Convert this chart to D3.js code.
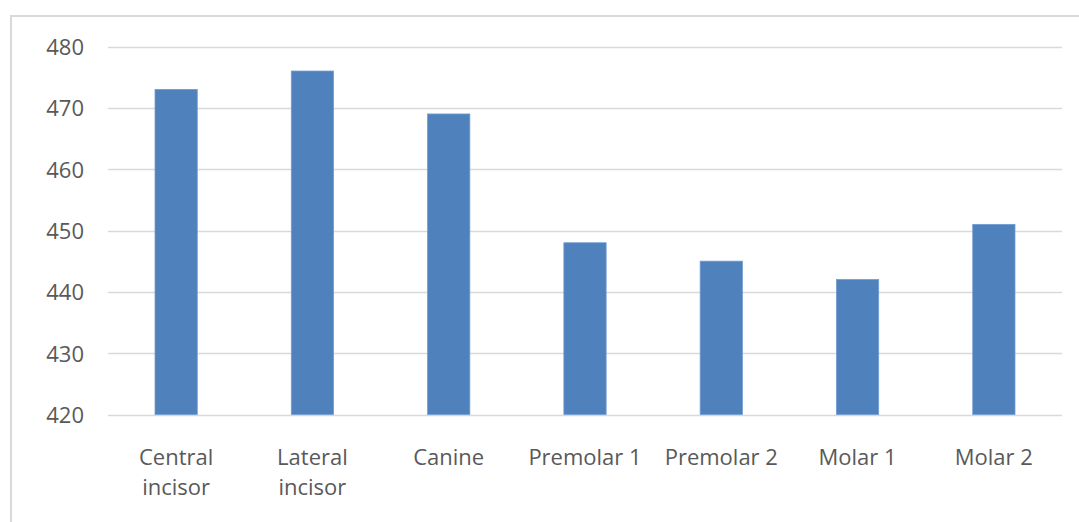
<!DOCTYPE html>
<html>
<head>
<meta charset="utf-8">
<script src="https://cdn.jsdelivr.net/npm/d3@7"></script>
<style>
  html, body { margin: 0; padding: 0; background: #ffffff; }
  svg { display: block; }
  text { font-family: "Open Sans", "Liberation Sans", sans-serif; fill: #595959; }
</style>
</head>
<body>
<svg id="chart" width="1079" height="522"></svg>
<script>
// Tooth types and their values
const categories = [
  ["Central", "incisor"],
  ["Lateral", "incisor"],
  ["Canine"],
  ["Premolar 1"],
  ["Premolar 2"],
  ["Molar 1"],
  ["Molar 2"]
];
const values = [473, 476, 469, 448, 445, 442, 451];
const yTicks = [420, 430, 440, 450, 460, 470, 480];

const svg = d3.select("#chart");
const W = 1079, H = 522;
const plot = { left: 108, right: 1062, top: 46.5, bottom: 414.5 };

// Chart-area frame
svg.append("rect")
  .attr("x", 11).attr("y", 16)
  .attr("width", W + 10).attr("height", H + 10)
  .attr("fill", "none")
  .attr("stroke", "#d9d9d9")
  .attr("stroke-width", 2);

const keys = categories.map((c, i) => i);
const x = d3.scaleBand()
  .domain(keys)
  .range([plot.left, plot.right])
  .paddingInner(0.69)
  .paddingOuter(0.345);

const y = d3.scaleLinear()
  .domain([420, 480])
  .range([plot.bottom, plot.top]);

// Horizontal gridlines
svg.append("g")
  .selectAll("line")
  .data(yTicks)
  .join("line")
  .attr("x1", plot.left).attr("x2", plot.right)
  .attr("y1", d => Math.round(y(d)) + 0.5)
  .attr("y2", d => Math.round(y(d)) + 0.5)
  .attr("stroke", "#d9d9d9")
  .attr("stroke-width", 1.5);

// Bars
svg.append("g")
  .selectAll("rect")
  .data(values)
  .join("rect")
  .attr("x", (d, i) => x(i))
  .attr("width", x.bandwidth())
  .attr("y", d => y(d))
  .attr("height", d => y(420) - y(d))
  .attr("fill", "#4f81bd")
  .attr("stroke", "#6f9bd0")
  .attr("stroke-width", 0.8);

// Y axis labels
const yAxis = d3.axisLeft(y)
  .tickValues(yTicks)
  .tickSize(0)
  .tickPadding(0);
const gy = svg.append("g")
  .attr("transform", `translate(84,0)`)
  .call(yAxis);
gy.select(".domain").remove();
gy.selectAll("text")
  .attr("font-size", 22)
  .attr("font-family", "'Open Sans', sans-serif")
  .attr("fill", "#595959")
  .attr("dy", "0.36em");

// Category labels
const xl = svg.append("g");
categories.forEach((lines, i) => {
  const t = xl.append("text")
    .attr("x", x(i) + x.bandwidth() / 2)
    .attr("y", 465)
    .attr("text-anchor", "middle")
    .attr("font-size", 22);
  lines.forEach((ln, j) => {
    t.append("tspan")
      .attr("x", x(i) + x.bandwidth() / 2)
      .attr("dy", j === 0 ? 0 : 30)
      .text(ln);
  });
});
</script>
</body>
</html>
